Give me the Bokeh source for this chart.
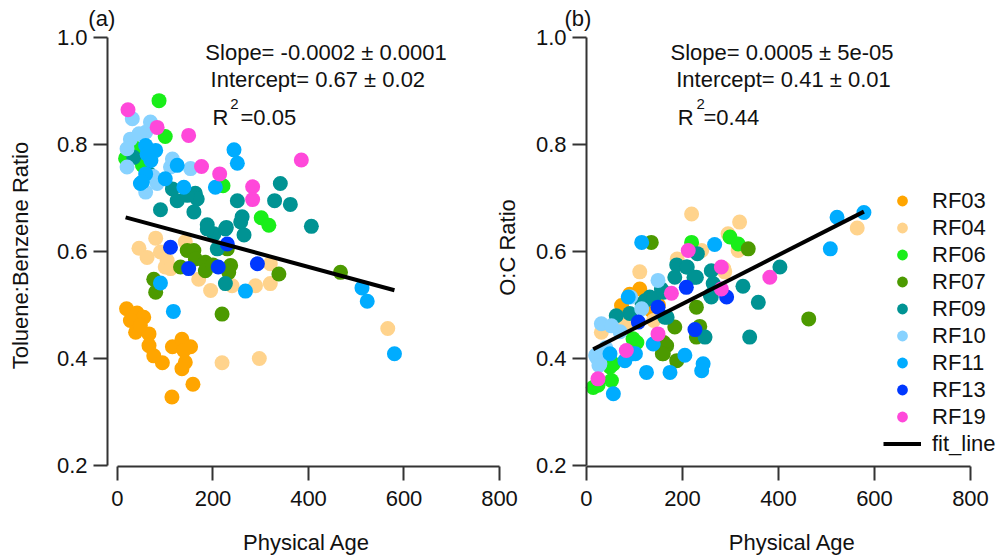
from bokeh.plotting import figure
from bokeh.models import (Label, Legend, LegendItem, FixedTicker, Range1d, PrintfTickFormatter,
                          LinearAxis)
from bokeh.embed import file_html
from bokeh.resources import INLINE

FONT = "Liberation Sans"

flights = ["RF03", "RF04", "RF06", "RF07", "RF09", "RF10", "RF11", "RF13", "RF19"]
colors = ["#FFA500", "#FFD38C", "#19EE19", "#4C9A00", "#009393", "#87D2FF", "#00ACFF", "#0038FF", "#FF48DA"]

x_ticks = [0, 200, 400, 600, 800]
y_ticks = [0.2, 0.4, 0.6, 0.8, 1.0]

# ---------------- panel (a): Toluene:Benzene ratio vs physical age ----------------
a_RF03_x = [19, 41, 55, 27, 38, 66, 48, 66, 76, 94, 115, 135, 153, 139, 142, 135, 158, 114]
a_RF03_y = [0.493, 0.485, 0.477, 0.471, 0.449, 0.446, 0.462, 0.424, 0.405, 0.392, 0.422, 0.436, 0.422, 0.415, 0.393, 0.381, 0.352, 0.328]
a_RF04_x = [80, 45, 62, 90, 104, 100, 111, 142, 170, 195, 240, 289, 320, 320, 219, 297, 566]
a_RF04_y = [0.625, 0.606, 0.589, 0.599, 0.583, 0.571, 0.568, 0.618, 0.548, 0.527, 0.536, 0.536, 0.540, 0.577, 0.392, 0.400, 0.456]
a_RF06_x = [87, 100, 52, 38, 17, 60, 221, 301, 317]
a_RF06_y = [0.882, 0.815, 0.762, 0.793, 0.774, 0.750, 0.723, 0.663, 0.649]
a_RF07_x = [146, 160, 163, 132, 184, 184, 237, 233, 338, 76, 80, 219, 467, 230, 200]
a_RF07_y = [0.602, 0.602, 0.586, 0.571, 0.580, 0.564, 0.574, 0.561, 0.558, 0.548, 0.524, 0.483, 0.561, 0.605, 0.575]
a_RF09_x = [34, 66, 115, 90, 125, 163, 167, 160, 188, 202, 228, 251, 261, 265, 329, 341, 362, 406, 209, 226, 188, 226, 146, 258]
a_RF09_y = [0.776, 0.745, 0.717, 0.678, 0.695, 0.709, 0.698, 0.674, 0.650, 0.633, 0.645, 0.695, 0.665, 0.631, 0.695, 0.727, 0.688, 0.647, 0.605, 0.540, 0.642, 0.642, 0.705, 0.655]
a_RF10_x = [31, 69, 59, 27, 20, 20, 115, 111, 153, 59, 83, 45, 75]
a_RF10_y = [0.848, 0.842, 0.823, 0.810, 0.792, 0.758, 0.773, 0.758, 0.755, 0.711, 0.727, 0.820, 0.740]
a_RF11_x = [244, 251, 59, 80, 62, 48, 59, 100, 125, 139, 205, 70, 52, 90, 117, 268, 512, 523, 580]
a_RF11_y = [0.790, 0.765, 0.798, 0.789, 0.782, 0.727, 0.745, 0.736, 0.761, 0.720, 0.720, 0.770, 0.730, 0.541, 0.488, 0.526, 0.532, 0.507, 0.409]
a_RF13_x = [111, 149, 211, 230, 293]
a_RF13_y = [0.608, 0.568, 0.571, 0.614, 0.577]
a_RF19_x = [22, 83, 149, 176, 214, 283, 283, 385]
a_RF19_y = [0.865, 0.832, 0.817, 0.759, 0.745, 0.721, 0.697, 0.771]
a_fit_slope = -0.000242
a_fit_intercept = 0.668
a_stats = ["Slope= -0.0002 \u00b1 0.0001", "Intercept= 0.67 \u00b1 0.02", "0.05"]

# ---------------- panel (b): O:C ratio vs physical age ----------------
b_RF03_x = [111, 73, 135, 90, 150]
b_RF03_y = [0.530, 0.499, 0.490, 0.520, 0.500]
b_RF04_x = [219, 319, 295, 111, 316, 240, 288, 564, 189, 286, 81, 31, 140]
b_RF04_y = [0.670, 0.655, 0.633, 0.562, 0.602, 0.602, 0.562, 0.644, 0.586, 0.568, 0.465, 0.449, 0.471]
b_RF06_x = [219, 299, 316, 97, 56, 52, 24, 49, 14, 105]
b_RF06_y = [0.617, 0.627, 0.614, 0.437, 0.390, 0.359, 0.350, 0.384, 0.346, 0.430]
b_RF07_x = [135, 337, 229, 184, 160, 167, 188, 236, 229, 463, 161, 158]
b_RF07_y = [0.617, 0.605, 0.496, 0.459, 0.409, 0.424, 0.396, 0.460, 0.440, 0.474, 0.430, 0.409]
b_RF09_x = [188, 208, 229, 260, 184, 156, 132, 122, 90, 62, 163, 260, 264, 326, 358, 340, 403, 247, 231, 210, 116, 140, 161, 168, 258, 224]
b_RF09_y = [0.575, 0.571, 0.552, 0.564, 0.552, 0.530, 0.515, 0.508, 0.484, 0.480, 0.477, 0.515, 0.540, 0.535, 0.505, 0.440, 0.571, 0.440, 0.596, 0.571, 0.502, 0.512, 0.524, 0.477, 0.518, 0.552]
b_RF10_x = [149, 31, 52, 115, 21, 28, 92, 19, 26, 70, 40]
b_RF10_y = [0.546, 0.465, 0.461, 0.493, 0.402, 0.390, 0.515, 0.406, 0.387, 0.450, 0.420]
b_RF11_x = [115, 267, 87, 139, 125, 174, 205, 243, 240, 56, 97, 80, 49, 522, 578, 508, 102]
b_RF11_y = [0.617, 0.613, 0.515, 0.427, 0.374, 0.374, 0.406, 0.390, 0.377, 0.334, 0.409, 0.396, 0.409, 0.664, 0.673, 0.605, 0.409]
b_RF13_x = [208, 149, 108, 226, 292]
b_RF13_y = [0.533, 0.496, 0.468, 0.454, 0.515]
b_RF19_x = [212, 281, 177, 149, 83, 24, 382, 281]
b_RF19_y = [0.602, 0.571, 0.522, 0.446, 0.415, 0.362, 0.552, 0.530]
b_fit_slope = 0.000456
b_fit_intercept = 0.411
b_stats = ["Slope= 0.0005 \u00b1 5e-05", "Intercept= 0.41 \u00b1 0.01", "0.44"]

a_series = [(a_RF03_x, a_RF03_y), (a_RF04_x, a_RF04_y), (a_RF06_x, a_RF06_y), (a_RF07_x, a_RF07_y),
            (a_RF09_x, a_RF09_y), (a_RF10_x, a_RF10_y), (a_RF11_x, a_RF11_y), (a_RF13_x, a_RF13_y),
            (a_RF19_x, a_RF19_y)]
b_series = [(b_RF03_x, b_RF03_y), (b_RF04_x, b_RF04_y), (b_RF06_x, b_RF06_y), (b_RF07_x, b_RF07_y),
            (b_RF09_x, b_RF09_y), (b_RF10_x, b_RF10_y), (b_RF11_x, b_RF11_y), (b_RF13_x, b_RF13_y),
            (b_RF19_x, b_RF19_y)]

TXT = "#111111"
AX = "#333333"
W, H = 996, 556

# one canvas holding both panels: panel (a) uses the default x range, panel (b) the extra range "b"
p = figure(width=W, height=H, output_backend="svg", toolbar_location=None,
           x_range=Range1d(-245.0, 1840.8), y_range=Range1d(0.02991, 1.06916), min_border=0)
p.extra_x_ranges = {"b": Range1d(-1220.8, 854.2)}
p.title.visible = False
p.outline_line_color = None
p.xgrid.visible = False
p.ygrid.visible = False
p.background_fill_color = "white"
p.border_fill_color = "white"

xb_axis = LinearAxis(x_range_name="b")
yb_axis = LinearAxis()
p.add_layout(xb_axis, "below")
p.add_layout(yb_axis, "left")

x_axes = [p.xaxis[0], xb_axis]
y_axes = [p.yaxis[0], yb_axis]


def style_axis(ax, ticks, bounds, standoff):
    ax.ticker = FixedTicker(ticks=ticks)
    ax.bounds = bounds
    ax.axis_line_color = AX
    ax.axis_line_width = 2
    ax.major_tick_line_color = AX
    ax.major_tick_line_width = 2
    ax.major_tick_out = 14
    ax.major_tick_in = 0
    ax.minor_tick_line_color = None
    ax.major_label_text_font = FONT
    ax.major_label_text_font_size = "22px"
    ax.major_label_text_color = TXT
    ax.major_label_standoff = standoff


for ax in x_axes:
    style_axis(ax, x_ticks, (0, 800), 10)
    ax.fixed_location = 0.1981
for ax in y_axes:
    style_axis(ax, y_ticks, (0.2, 1.0), 6)
    ax.formatter = PrintfTickFormatter(format="%.1f")
p.yaxis[0].fixed_location = -20.9      # panel (a) y axis, slightly left of x=0
yb_axis.fixed_location = 982.2         # panel (b) y axis, at its own x=0


def draw_panel(series, slope, intercept, rname):
    rs = []
    for (xs, ys), c in zip(series, colors):
        rs.append(p.scatter(xs, ys, size=15, fill_color=c, line_color=None, x_range_name=rname))
    all_x = [v for xs, _ in series for v in xs]
    x0, x1 = min(all_x), max(all_x)
    fit = p.line([x0, x1], [intercept + slope * x0, intercept + slope * x1],
                 line_color="black", line_width=4, x_range_name=rname)
    return rs, fit


ra, fa = draw_panel(a_series, a_fit_slope, a_fit_intercept, "default")
rb, fb = draw_panel(b_series, b_fit_slope, b_fit_intercept, "b")


def lab(x, y, text, rname="default", size="22px", align="left", angle=0.0):
    p.add_layout(Label(x=x, y=y, text=text, x_range_name=rname, text_font=FONT, text_font_size=size,
                       text_color=TXT, text_align=align, text_baseline="middle", angle=angle))


# panel (a) annotations
lab(-61, 1.0355, "(a)")
lab(184, 0.972, a_stats[0])
lab(195, 0.9215, a_stats[1])
lab(199, 0.8505, "R")
lab(236, 0.8766, "2", size="15px")
lab(257.6, 0.8505, "=" + a_stats[2])
lab(-203, 0.5925, "Toluene:Benzene Ratio", align="center", angle=1.5708)
lab(396, 0.056, "Physical Age", align="center")

# panel (b) annotations
lab(-46, 1.0355, "(b)", "b")
lab(175, 0.972, b_stats[0], "b")
lab(187, 0.9215, b_stats[1], "b")
lab(190, 0.8505, "R", "b")
lab(229, 0.8766, "2", "b", size="15px")
lab(243.8, 0.8505, "=" + b_stats[2], "b")
lab(-164.6, 0.6075, "O:C Ratio", "b", align="center", angle=1.5708)
lab(429, 0.056, "Physical Age", "b", align="center")

items = [LegendItem(label=f, renderers=[r]) for f, r in zip(flights, rb)]
items.append(LegendItem(label="fit_line", renderers=[fb]))
legend = Legend(items=items, orientation="vertical", location=(883, 99),
                glyph_width=38, glyph_height=27, label_height=27, label_standoff=11,
                spacing=0, padding=0, margin=0, border_line_color=None, background_fill_alpha=0,
                label_text_font=FONT, label_text_font_size="22px", label_text_color=TXT)
p.add_layout(legend)

open("out.html", "w").write(file_html(p, INLINE))
